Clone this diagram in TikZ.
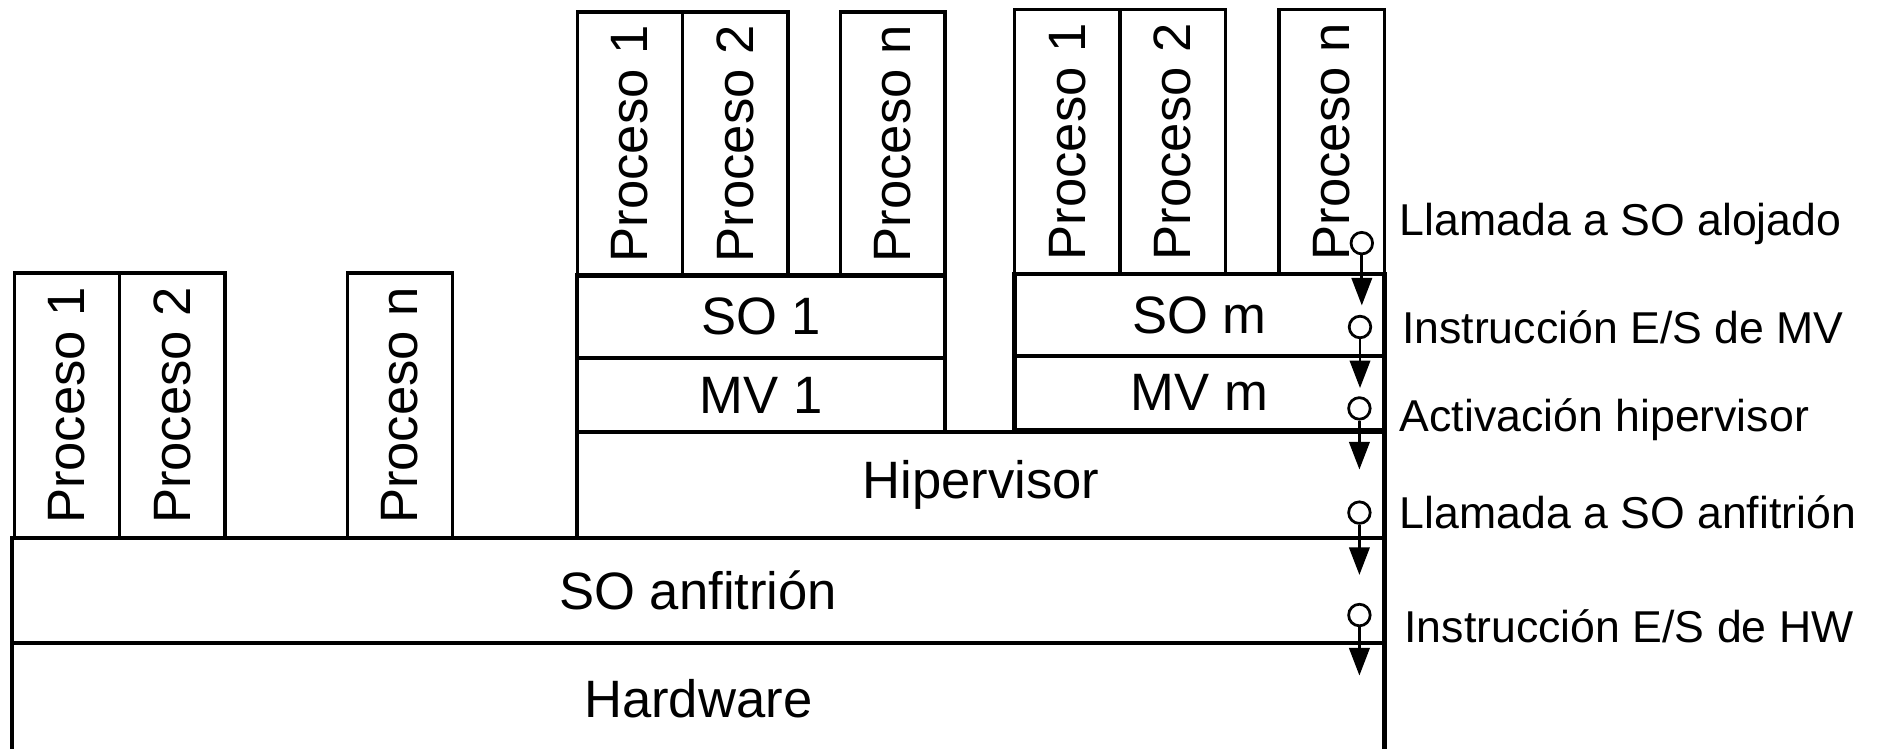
\documentclass[tikz,border=0pt]{standalone}
\usepackage{fontspec}
\setmainfont{Liberation Sans}
\usepackage{tikz}
\usetikzlibrary{arrows.meta}
\usetikzlibrary{positioning}

\tikzset{
  caja/.style={draw=black,line width=0.8pt,inner sep=0pt,font=\fontsize{12.5}{14}\selectfont},
  proc/.style={caja,rotate=90,minimum width=2.21cm,minimum height=0.88cm},
  capa/.style={caja,line width=1pt},
  punto/.style={circle,draw=black,fill=white,line width=0.65pt,minimum size=0.18cm,inner sep=0pt},
  flecha/.style={line width=0.65pt,-{Triangle[length=2.3mm,width=1.7mm]}},
  etiq/.style={anchor=west,inner sep=0pt,font=\fontsize{10.6}{12}\selectfont}
}

\begin{document}
\begin{tikzpicture}
\clip (0,0) rectangle (15.68,6.25);
\fill[white] (0,0) rectangle (15.68,6.25);

% capas comunes
\node[capa,minimum width=11.46cm,minimum height=0.92cm] (hw) at (5.83,0.42) {Hardware};
\node[capa,minimum width=11.46cm,minimum height=0.88cm] (anf) at (5.83,1.32) {SO anfitri\'on};
\node[capa,minimum width=6.74cm,minimum height=0.88cm] (hip) at (8.19,2.20) {Hipervisor};

% procesos del anfitrion
\node[proc] (pa1) at (0.56,2.865) {Proceso 1};
\node[proc] (pa2) at (1.44,2.865) {Proceso 2};
\node[proc] (pan) at (3.34,2.865) {Proceso n};

% maquina virtual 1
\node[capa,minimum width=3.07cm,minimum height=0.62cm] (mv1) at (6.355,2.95) {MV 1};
\node[capa,minimum width=3.07cm,minimum height=0.69cm] (so1) at (6.355,3.605) {SO 1};
\node[proc,minimum width=2.20cm] (pb1) at (5.26,5.05) {Proceso 1};
\node[proc,minimum width=2.20cm] (pb2) at (6.14,5.05) {Proceso 2};
\node[proc,minimum width=2.20cm,minimum height=0.87cm] (pbn) at (7.455,5.05) {Proceso n};

% maquina virtual m
\node[capa,minimum width=3.09cm,minimum height=0.62cm] (mvm) at (10.015,2.97) {MV m};
\node[capa,minimum width=3.09cm,minimum height=0.68cm] (som) at (10.015,3.62) {SO m};
\node[proc] (pc1) at (8.91,5.065) {Proceso 1};
\node[proc] (pc2) at (9.79,5.065) {Proceso 2};
\node[proc] (pcn) at (11.12,5.065) {Proceso n};

% llamadas
\node[punto] (c1) at (11.37,4.22) {};
\node[punto] (c2) at (11.355,3.52) {};
\node[punto] (c3) at (11.35,2.84) {};
\node[punto] (c4) at (11.35,1.97) {};
\node[punto] (c5) at (11.35,1.115) {};
\coordinate (t1) at (11.37,3.70);
\coordinate (t2) at (11.355,3.01);
\coordinate (t3) at (11.35,2.33);
\coordinate (t4) at (11.35,1.45);
\coordinate (t5) at (11.35,0.61);
\draw[flecha] (c1) -- (t1);
\draw[flecha] (c2) -- (t2);
\draw[flecha] (c3) -- (t3);
\draw[flecha] (c4) -- (t4);
\draw[flecha] (c5) -- (t5);

\node[etiq] (l1) at (11.68,4.38) {Llamada a SO alojado};
\node[etiq] (l2) at (11.70,3.52) {Instrucci\'on E/S de MV};
\node[etiq] (l3) at (11.68,2.75) {Activaci\'on hipervisor};
\node[etiq] (l4) at (11.68,1.97) {Llamada a SO anfitri\'on};
\node[etiq] (l5) at (11.72,1.02) {Instrucci\'on E/S de HW};

\end{tikzpicture}
\end{document}
